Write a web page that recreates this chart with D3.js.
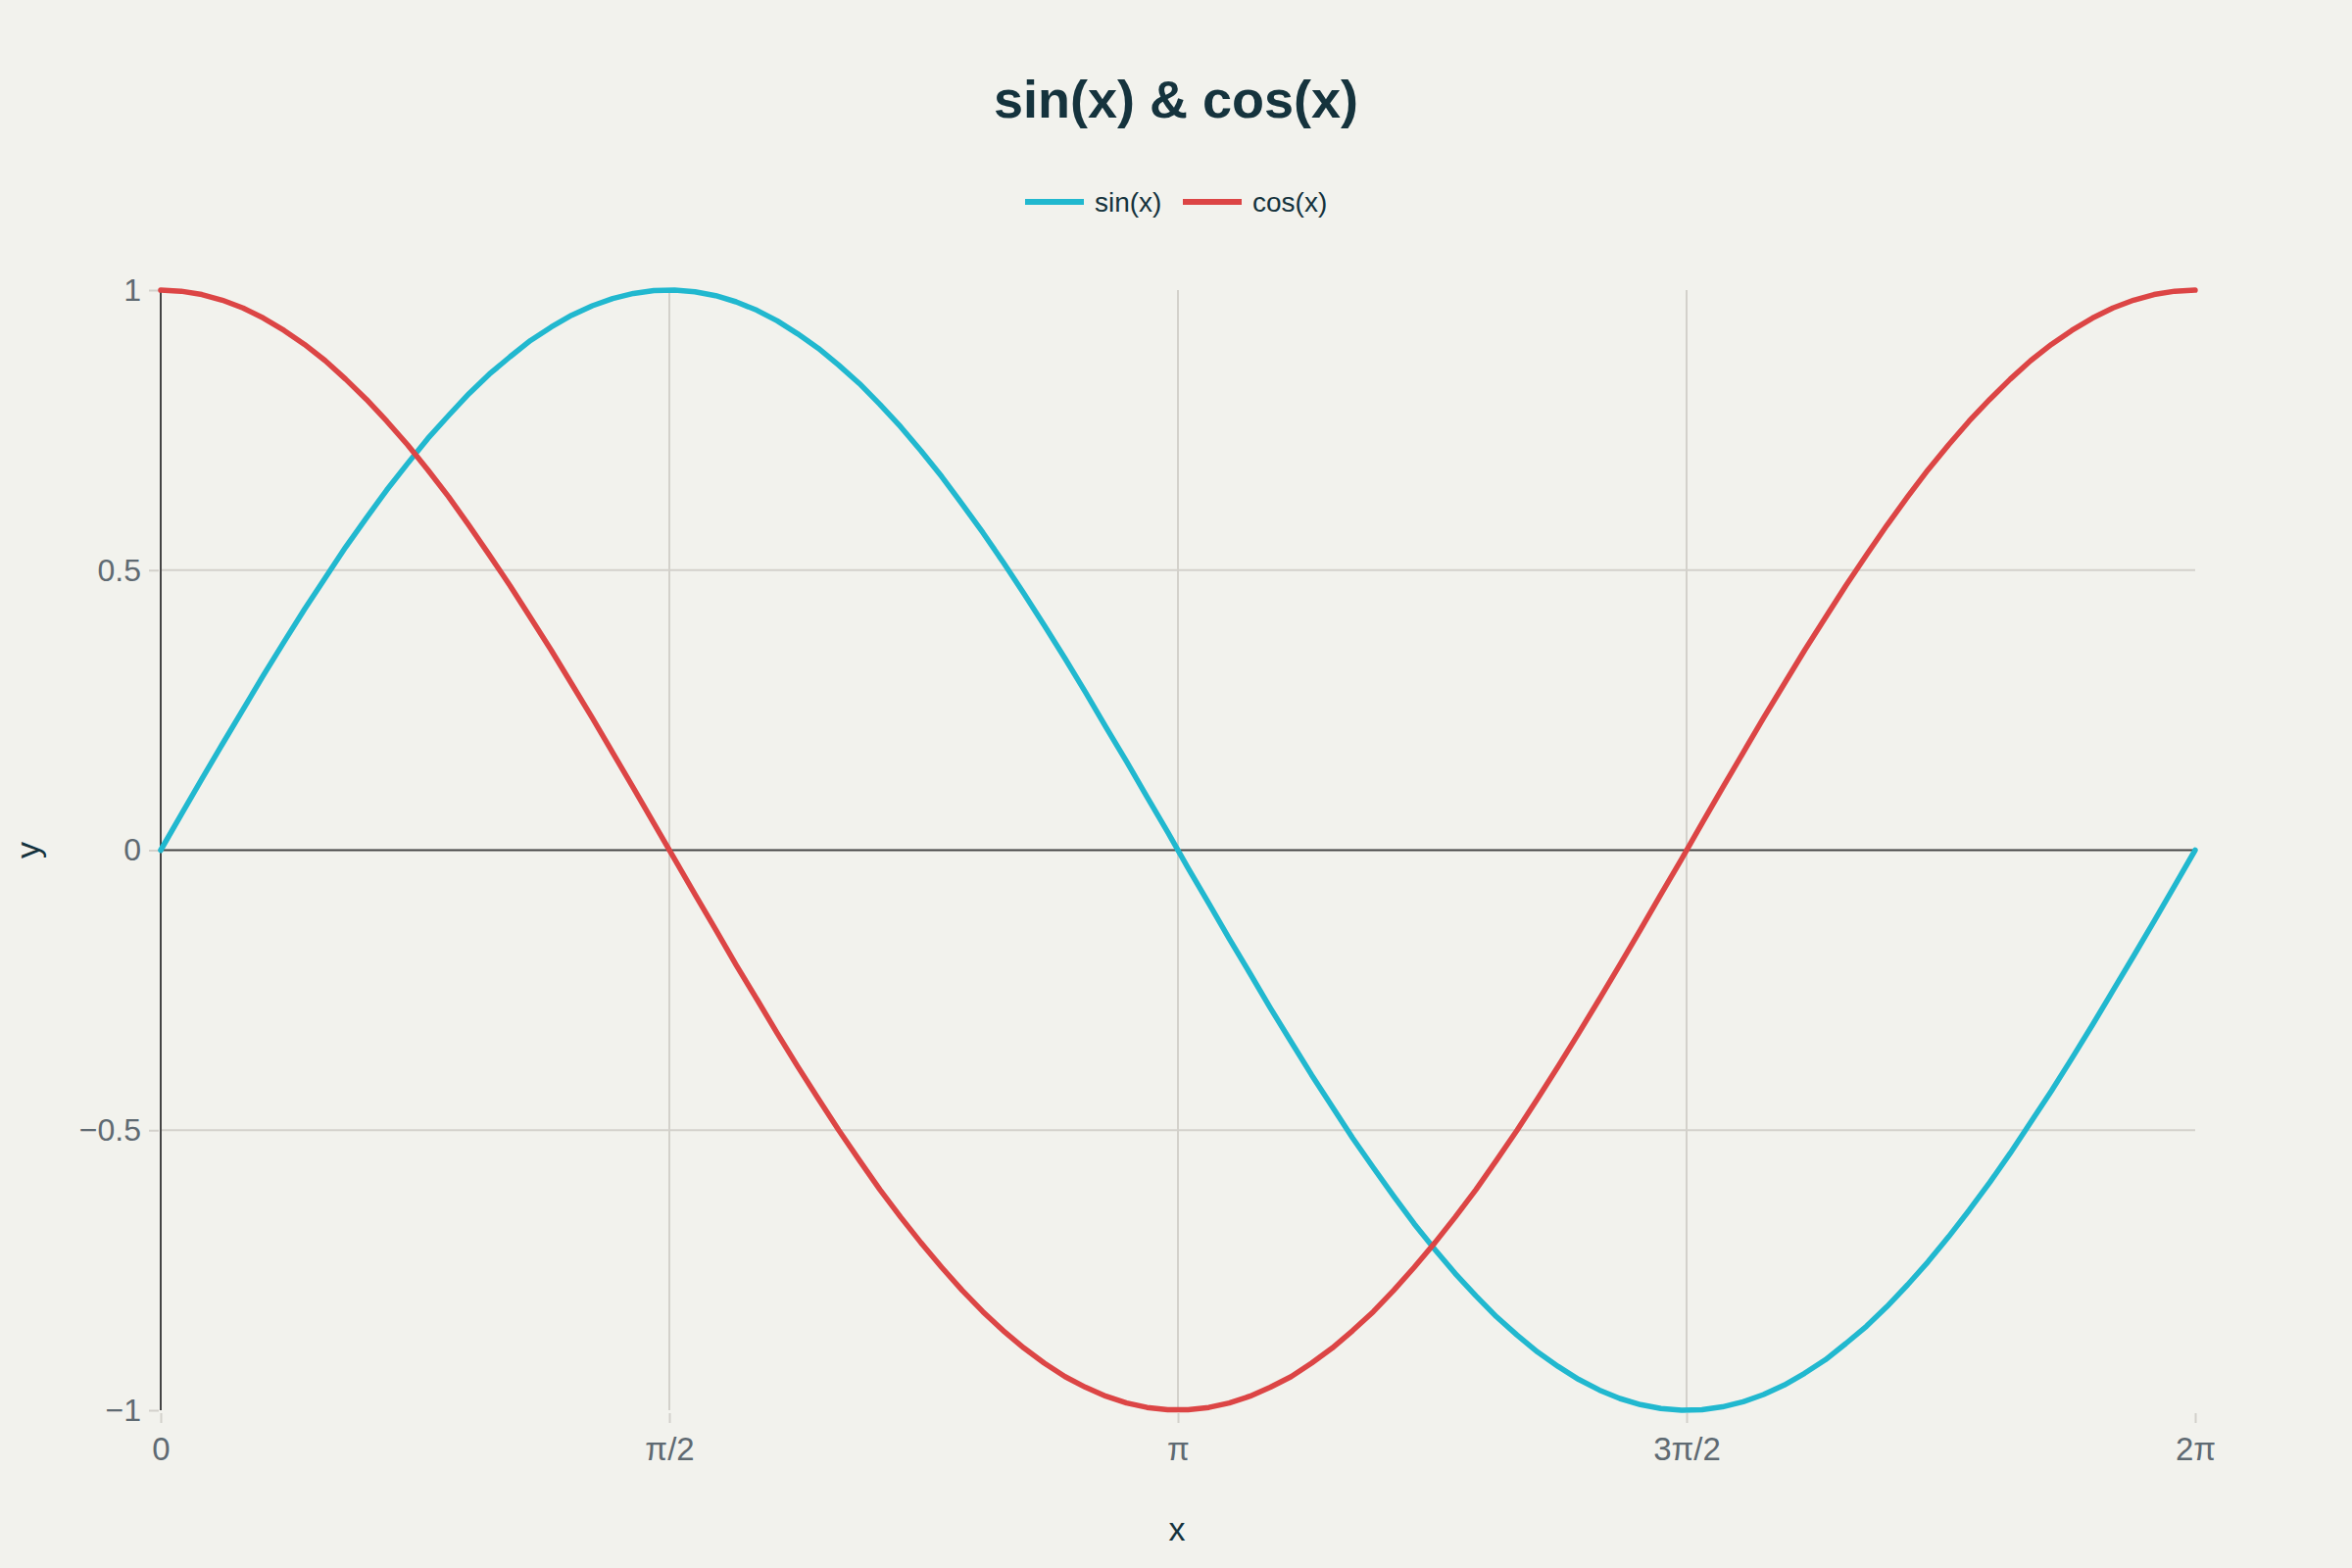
<!DOCTYPE html>
<html>
<head>
<meta charset="utf-8">
<script src="https://cdn.jsdelivr.net/npm/d3@7"></script>
<style>
  html, body { margin: 0; padding: 0; background: #f2f2ed; }
  svg { display: block; }
  text { font-family: "Liberation Sans", Arial, sans-serif; }
</style>
</head>
<body>
<svg id="chart" width="2400" height="1600"></svg>
<script>
// ---- data ----
const xValues = [0.000,0.063,0.127,0.190,0.254,0.317,0.381,0.444,0.508,0.571,0.635,0.698,0.762,0.825,0.889,0.952,1.015,1.079,1.142,1.206,1.269,1.333,1.396,1.460,1.523,1.587,1.650,1.714,1.777,1.841,1.904,1.967,2.031,2.094,2.158,2.221,2.285,2.348,2.412,2.475,2.539,2.602,2.666,2.729,2.793,2.856,2.919,2.983,3.046,3.110,3.173,3.237,3.300,3.364,3.427,3.491,3.554,3.618,3.681,3.745,3.808,3.871,3.935,3.998,4.062,4.125,4.189,4.252,4.316,4.379,4.443,4.506,4.570,4.633,4.697,4.760,4.823,4.887,4.950,5.014,5.077,5.141,5.204,5.268,5.331,5.395,5.458,5.522,5.585,5.649,5.712,5.775,5.839,5.902,5.966,6.029,6.093,6.156,6.220,6.283];
const sinValues = [0.000,0.063,0.127,0.189,0.251,0.312,0.372,0.430,0.486,0.541,0.593,0.643,0.690,0.735,0.776,0.815,0.850,0.881,0.910,0.934,0.955,0.972,0.985,0.994,0.999,1.000,0.997,0.990,0.979,0.964,0.945,0.922,0.896,0.866,0.833,0.796,0.756,0.713,0.667,0.618,0.567,0.514,0.458,0.401,0.342,0.282,0.220,0.158,0.095,0.032,-0.032,-0.095,-0.158,-0.220,-0.282,-0.342,-0.401,-0.458,-0.514,-0.567,-0.618,-0.667,-0.713,-0.756,-0.796,-0.833,-0.866,-0.896,-0.922,-0.945,-0.964,-0.979,-0.990,-0.997,-1.000,-0.999,-0.994,-0.985,-0.972,-0.955,-0.934,-0.910,-0.881,-0.850,-0.815,-0.776,-0.735,-0.690,-0.643,-0.593,-0.541,-0.486,-0.430,-0.372,-0.312,-0.251,-0.189,-0.127,-0.063,0.000];
const cosValues = [1.000,0.998,0.992,0.982,0.968,0.950,0.928,0.903,0.874,0.841,0.805,0.766,0.724,0.679,0.631,0.580,0.527,0.472,0.415,0.357,0.297,0.236,0.174,0.111,0.048,-0.016,-0.079,-0.142,-0.205,-0.266,-0.327,-0.386,-0.444,-0.500,-0.554,-0.606,-0.655,-0.701,-0.745,-0.786,-0.824,-0.858,-0.889,-0.916,-0.940,-0.959,-0.975,-0.987,-0.995,-0.999,-0.999,-0.995,-0.987,-0.975,-0.959,-0.940,-0.916,-0.889,-0.858,-0.824,-0.786,-0.745,-0.701,-0.655,-0.606,-0.554,-0.500,-0.444,-0.386,-0.327,-0.266,-0.205,-0.142,-0.079,-0.016,0.048,0.111,0.174,0.236,0.297,0.357,0.415,0.472,0.527,0.580,0.631,0.679,0.724,0.766,0.805,0.841,0.874,0.903,0.928,0.950,0.968,0.982,0.992,0.998,1.000];
const seriesNames = ["sin(x)", "cos(x)"];
const xTickValues = [0, Math.PI / 2, Math.PI, 3 * Math.PI / 2, 2 * Math.PI];
const xTickLabels = ["0", "π/2", "π", "3π/2", "2π"];
const yTickValues = [-1, -0.5, 0, 0.5, 1];
const yTickLabels = ["−1", "−0.5", "0", "0.5", "1"];
const titleText = "sin(x) & cos(x)";
const xTitle = "x";
const yTitle = "y";

// ---- layout ----
const colors = ["#21b8cf", "#dc4545"];
const W = 2400, H = 1600;
const m = { left: 164, right: 160, top: 296, bottom: 161 };
const svg = d3.select("#chart");
svg.append("rect").attr("width", W).attr("height", H).attr("fill", "#f2f2ed");

const x = d3.scaleLinear().domain([0, 2 * Math.PI]).range([m.left, W - m.right]);
const y = d3.scaleLinear().domain([-1, 1]).range([H - m.bottom, m.top]);

const gridColor = "#d3d1cb";
const tickText = "#5f6a72";
const darkText = "#15333d";

// vertical grid (inner ticks)
svg.append("g").selectAll("line")
  .data(xTickValues.slice(1, -1)).join("line")
  .attr("x1", d => x(d)).attr("x2", d => x(d))
  .attr("y1", y(1)).attr("y2", y(-1))
  .attr("stroke", gridColor).attr("stroke-width", 2);

// horizontal grid (inner non-zero ticks)
svg.append("g").selectAll("line")
  .data(yTickValues.filter(v => v !== 0 && Math.abs(v) !== 1)).join("line")
  .attr("x1", x(0)).attr("x2", x(2 * Math.PI))
  .attr("y1", d => y(d)).attr("y2", d => y(d))
  .attr("stroke", gridColor).attr("stroke-width", 2);

// x axis ticks and labels
const xAxis = d3.axisBottom(x).tickValues(xTickValues)
  .tickFormat((d, i) => xTickLabels[i]).tickSizeOuter(0).tickSizeInner(10).tickPadding(15);
const gx = svg.append("g").attr("transform", `translate(0,${y(-1) + 3})`).call(xAxis);
gx.select(".domain").remove();
gx.selectAll(".tick line").attr("stroke", gridColor).attr("stroke-width", 2);
gx.selectAll(".tick text").attr("fill", tickText).attr("font-size", 33)
  .attr("font-family", "'Liberation Sans', Arial, sans-serif");

// y axis ticks and labels
const yAxis = d3.axisLeft(y).tickValues(yTickValues)
  .tickFormat((d, i) => yTickLabels[i]).tickSizeOuter(0).tickSizeInner(10).tickPadding(8);
const gy = svg.append("g").attr("transform", `translate(${x(0) - 2},0)`).call(yAxis);
gy.select(".domain").remove();
gy.selectAll(".tick line").attr("stroke", gridColor).attr("stroke-width", 2);
gy.selectAll(".tick text").attr("fill", tickText).attr("font-size", 32)
  .attr("font-family", "'Liberation Sans', Arial, sans-serif");

// zero line
svg.append("line")
  .attr("x1", x(0)).attr("x2", x(2 * Math.PI))
  .attr("y1", y(0)).attr("y2", y(0))
  .attr("stroke", "#444444").attr("stroke-width", 2);

// y axis line
svg.append("line")
  .attr("x1", x(0)).attr("x2", x(0))
  .attr("y1", y(1)).attr("y2", y(-1))
  .attr("stroke", "#444444").attr("stroke-width", 2);

// series lines
const series = [sinValues, cosValues];
const line = d3.line().x((d, i) => x(xValues[i])).y(d => y(d));
svg.append("g").selectAll("path")
  .data(series).join("path")
  .attr("d", d => line(d))
  .attr("fill", "none")
  .attr("stroke", (d, i) => colors[i])
  .attr("stroke-width", 5.5)
  .attr("stroke-linejoin", "round")
  .attr("stroke-linecap", "round");

// title
svg.append("text").attr("x", 1200).attr("y", 120)
  .attr("text-anchor", "middle").attr("font-size", 54).attr("font-weight", "bold")
  .attr("fill", darkText).text(titleText);

// legend
const legendItems = [{ x0: 1046, tx: 1117 }, { x0: 1207, tx: 1278 }];
const lg = svg.append("g");
seriesNames.forEach((name, i) => {
  lg.append("line").attr("x1", legendItems[i].x0).attr("x2", legendItems[i].x0 + 60)
    .attr("y1", 206).attr("y2", 206)
    .attr("stroke", colors[i]).attr("stroke-width", 6);
  lg.append("text").attr("x", legendItems[i].tx).attr("y", 216)
    .attr("font-size", 28).attr("fill", darkText).text(name);
});

// axis titles
svg.append("text").attr("x", 1201).attr("y", 1572)
  .attr("text-anchor", "middle").attr("font-size", 34).attr("fill", darkText).text(xTitle);
svg.append("text")
  .attr("transform", `translate(40,${y(0)}) rotate(-90)`)
  .attr("text-anchor", "middle").attr("font-size", 34).attr("fill", darkText).text(yTitle);
</script>
</body>
</html>
